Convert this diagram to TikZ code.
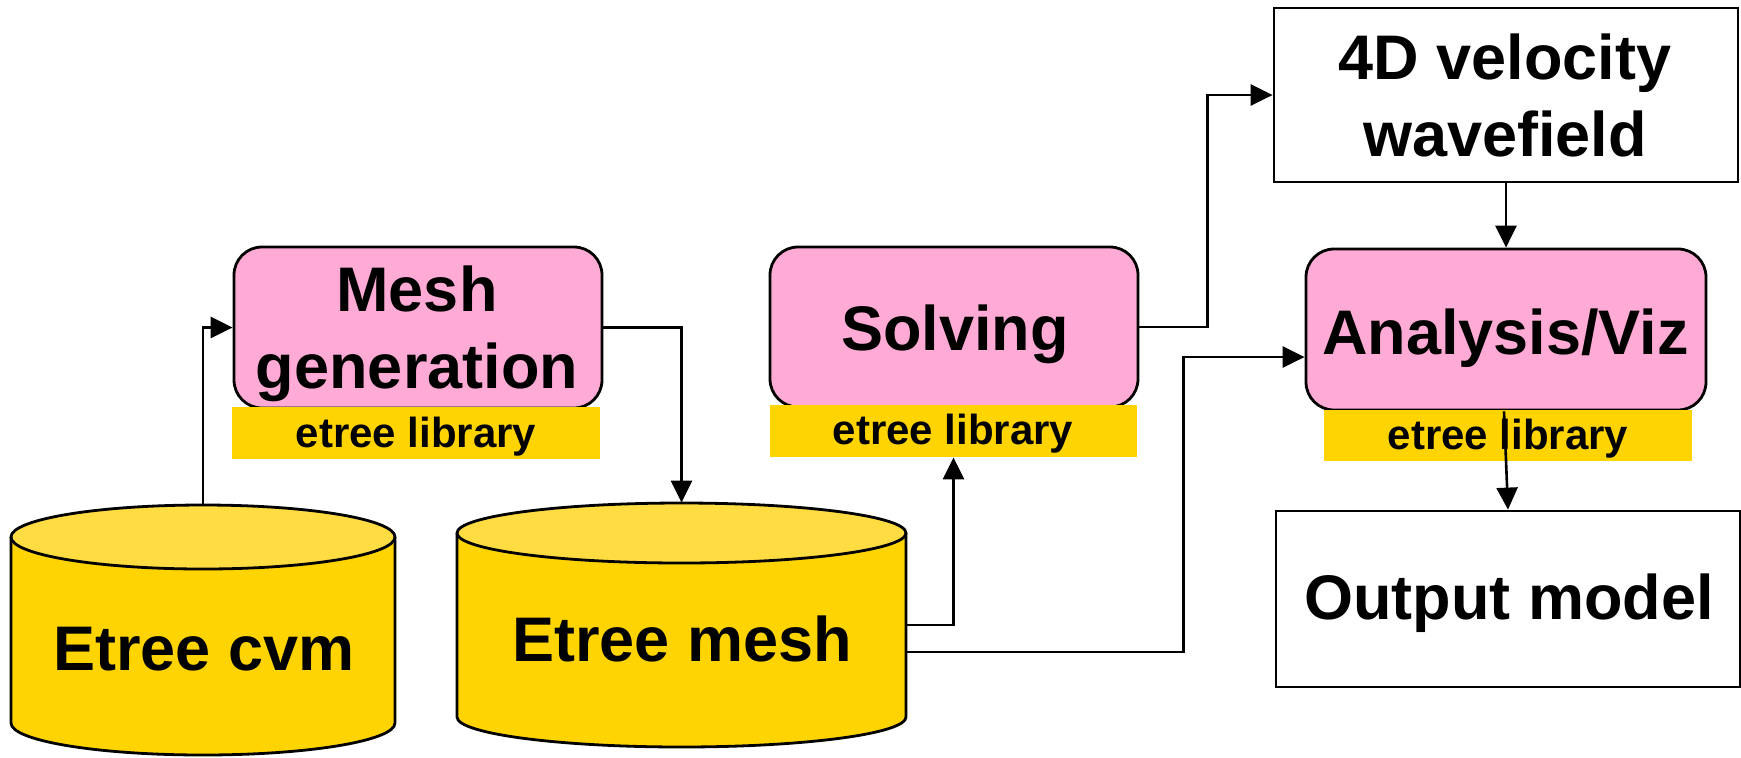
\documentclass[tikz,border=0pt]{standalone}
\usepackage{fontspec}
\setmainfont{Liberation Sans}
\usetikzlibrary{arrows.meta}
\definecolor{procpink}{HTML}{FFABD5}
\definecolor{libyellow}{HTML}{FFD400}
\definecolor{dbtop}{HTML}{FFDC42}
\tikzset{
  big/.style={font=\fontsize{31.5}{38.5}\selectfont\bfseries, inner sep=0pt},
  small/.style={font=\fontsize{21}{25}\selectfont\bfseries, inner sep=0pt},
  procbox/.style={draw, line width=1.4pt, fill=procpink, rounded corners=14pt, inner sep=0pt},
  libband/.style={fill=libyellow, inner sep=0pt},
  plainbox/.style={draw, line width=1.4pt, fill=white, inner sep=0pt},
  dbnode/.style={inner sep=0pt},
  dbline/.style={line width=1.4pt},
  arr/.style={line width=1.3pt, -{Triangle[length=11pt,width=10.5pt]}},
}
\begin{document}
\begin{tikzpicture}[x=0.5pt,y=-0.5pt]
\useasboundingbox (0,0) rectangle (1741,757);

% --- database cylinders ---
% Etree cvm
\fill[libyellow] (11,537) -- (11,723) arc[start angle=180,end angle=0,x radius=192,y radius=32] -- (395,537) -- cycle;
\draw[dbline] (11,537) -- (11,723) arc[start angle=180,end angle=0,x radius=192,y radius=32] -- (395,537);
\filldraw[dbline, fill=dbtop] (203,537) ellipse[x radius=192,y radius=32];
\node[dbnode, minimum width=192pt, minimum height=125pt] (cvm) at (203,630) {};
\node[big, anchor=base] (cvmtext) at (204,670) {Etree cvm};

% Etree mesh
\fill[libyellow] (457,533) -- (457,717) arc[start angle=180,end angle=0,x radius=224.5,y radius=30] -- (906,533) -- cycle;
\draw[dbline] (457,533) -- (457,717) arc[start angle=180,end angle=0,x radius=224.5,y radius=30] -- (906,533);
\filldraw[dbline, fill=dbtop] (681.5,533) ellipse[x radius=224.5,y radius=30];
\node[dbnode, minimum width=224.5pt, minimum height=122pt] (mesh) at (681.5,625) {};
\node[big, anchor=base] (meshtext) at (682,661) {Etree mesh};

% --- processing stages with their library bands ---
% (base anchor of a two-line node sits on its last line)
\node[procbox, minimum width=184pt, minimum height=80.5pt] (meshgen) at (418,327.5) {};
\node[libband, minimum width=184pt, minimum height=26pt] (meshlib) at (416,433) {};
\node[big, anchor=base, align=center] (meshgentext) at (417,388) {Mesh\\generation};
\node[small, anchor=base] (meshlibtext) at (416,447) {etree library};

\node[procbox, minimum width=184pt, minimum height=80pt] (solving) at (954,327) {};
\node[libband, minimum width=183.5pt, minimum height=26pt] (solvlib) at (953.5,431) {};
\node[big, anchor=base] (solvingtext) at (955,350) {Solving};
\node[small, anchor=base] (solvlibtext) at (953,444) {etree library};

\node[procbox, minimum width=200pt, minimum height=80.5pt] (anal) at (1506,329.5) {};
\node[libband, minimum width=184pt, minimum height=25.5pt] (anallib) at (1508,435.5) {};
\node[big, anchor=base] (analtext) at (1505.5,354) {Analysis/Viz};
\node[small, anchor=base] (anallibtext) at (1508,449) {etree library};

% --- plain result boxes ---
\node[plainbox, minimum width=232pt, minimum height=87pt] (vel) at (1506,95) {};
\node[big, anchor=base, align=center] (veltext) at (1505,156) {4D velocity\\wavefield};

\node[plainbox, minimum width=232pt, minimum height=88pt] (out) at (1508,599) {};
\node[big, anchor=base] (outtext) at (1509,619) {Output model};

% --- data flow ---
\draw[arr] (cvm.north) |- (meshgen.west);
\draw[arr] (meshgen.east) -| (mesh.north);
\draw[arr] (mesh.east) -| (solvlib.south);
\draw[arr] ([yshift=-13.5pt]mesh.east) -- ++(277,0) |- ([yshift=-13.75pt]anal.west);
\draw[arr] (solving.east) -- ++(68,0) |- (vel.west);
\draw[arr] (vel.south) -- (anal.north);
\draw[arr] ([xshift=-1pt]anal.south) -- (out.north);
\end{tikzpicture}
\end{document}
